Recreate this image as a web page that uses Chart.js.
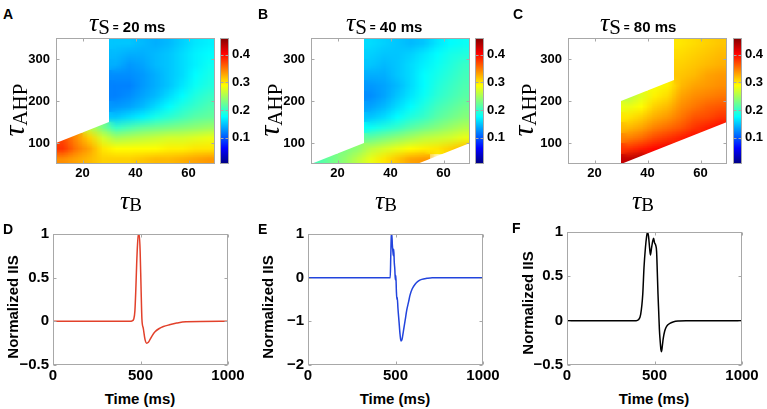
<!DOCTYPE html>
<html><head><meta charset="utf-8">
<script src="https://cdn.jsdelivr.net/npm/chart.js@4.4.1/dist/chart.umd.min.js"></script>
<style>
html,body{margin:0;padding:0;background:#fff;}
body{width:767px;height:409px;position:relative;overflow:hidden;font-family:"Liberation Sans",Arial,sans-serif;}
canvas{position:absolute;}
canvas.px{image-rendering:pixelated;}
canvas.sm{image-rendering:auto;}
.t{position:absolute;white-space:nowrap;line-height:1;color:#000;font:bold 14px "Liberation Sans",Arial,sans-serif;}
.tau{font-family:"Liberation Serif","DejaVu Serif",serif;font-style:italic;font-weight:normal;}
.sub{font-family:"Liberation Serif","DejaVu Serif",serif;font-weight:normal;position:relative;}
.rot{transform:translate(-50%,-50%) rotate(-90deg);}
.ctr{transform:translate(-50%,-50%);}
.pl{font:bold 14px "Liberation Sans",Arial,sans-serif;}
</style></head><body>

<!-- heat cells: crisp underlay + smooth layer (low-res backing, scaled by the browser) -->
<canvas id="pA" class="px" width="12" height="12" style="left:56px;top:38px;width:159px;height:126px"></canvas>
<canvas id="sA" class="sm" width="12" height="12" style="left:56px;top:38px;width:159px;height:126px"></canvas>
<canvas id="pB" class="px" width="12" height="12" style="left:311px;top:38px;width:159px;height:126px"></canvas>
<canvas id="sB" class="sm" width="12" height="12" style="left:311px;top:38px;width:159px;height:126px"></canvas>
<canvas id="pC" class="px" width="12" height="12" style="left:568px;top:38px;width:159px;height:126px"></canvas>
<canvas id="sC" class="sm" width="12" height="12" style="left:568px;top:38px;width:159px;height:126px"></canvas>

<canvas id="hA" width="215" height="164" style="left:0px;top:22px"></canvas>
<canvas id="hB" width="215" height="164" style="left:255px;top:22px"></canvas>
<canvas id="hC" width="215" height="164" style="left:512px;top:22px"></canvas>
<canvas id="cA" width="45" height="158" style="left:220px;top:22px"></canvas>
<canvas id="cB" width="45" height="158" style="left:475px;top:22px"></canvas>
<canvas id="cC" width="45" height="158" style="left:733px;top:22px"></canvas>
<canvas id="lD" width="248" height="171" style="left:0px;top:218px"></canvas>
<canvas id="lE" width="248" height="171" style="left:255px;top:218px"></canvas>
<canvas id="lF" width="250" height="173" style="left:512px;top:216px"></canvas>

<div class="t pl" style="left:3px;top:6px">A</div>
<div class="t pl" style="left:258px;top:6px">B</div>
<div class="t pl" style="left:513px;top:6px">C</div>
<div class="t pl" style="left:3px;top:221px">D</div>
<div class="t pl" style="left:258px;top:221px">E</div>
<div class="t pl" style="left:512px;top:220px">F</div>

<div class="t" style="left:89px;top:8px"><span class="tau" style="font-size:26px">τ</span><span class="sub" style="font-size:21px;top:3px">S</span><span style="font-size:10px;position:relative;top:0px"> =</span><span style="font-size:15px;position:relative;top:1px"> 20 ms</span></div>
<div class="t" style="left:346px;top:8px"><span class="tau" style="font-size:26px">τ</span><span class="sub" style="font-size:21px;top:3px">S</span><span style="font-size:10px;position:relative;top:0px"> =</span><span style="font-size:15px;position:relative;top:1px"> 40 ms</span></div>
<div class="t" style="left:600px;top:8px"><span class="tau" style="font-size:26px">τ</span><span class="sub" style="font-size:21px;top:3px">S</span><span style="font-size:10px;position:relative;top:0px"> =</span><span style="font-size:15px;position:relative;top:1px"> 80 ms</span></div>

<div class="t" style="left:120px;top:186px"><span class="tau" style="font-size:26px">τ</span><span class="sub" style="font-size:19px;top:2px">B</span></div>
<div class="t" style="left:375px;top:186px"><span class="tau" style="font-size:26px">τ</span><span class="sub" style="font-size:19px;top:2px">B</span></div>
<div class="t" style="left:632px;top:186px"><span class="tau" style="font-size:26px">τ</span><span class="sub" style="font-size:19px;top:2px">B</span></div>

<div class="t rot" style="left:14px;top:110px"><span class="tau" style="font-size:30px">τ</span><span class="sub" style="font-size:21px;top:3px">AHP</span></div>
<div class="t rot" style="left:269px;top:110px"><span class="tau" style="font-size:30px">τ</span><span class="sub" style="font-size:21px;top:3px">AHP</span></div>
<div class="t rot" style="left:523px;top:110px"><span class="tau" style="font-size:30px">τ</span><span class="sub" style="font-size:21px;top:3px">AHP</span></div>

<div class="t rot" style="left:12px;top:307px;font-size:15px">Normalized IIS</div>
<div class="t rot" style="left:267px;top:307px;font-size:15px">Normalized IIS</div>
<div class="t rot" style="left:527px;top:303px;font-size:15px">Normalized IIS</div>
<div class="t ctr" style="left:140px;top:398px;font-size:15px">Time (ms)</div>
<div class="t ctr" style="left:395px;top:398px;font-size:15px">Time (ms)</div>
<div class="t ctr" style="left:654px;top:398px;font-size:15px">Time (ms)</div>

<script>
// ---------------- data ----------------
const n = null;
const cellX = [12.5,17.5,22.5,27.5,32.5,37.5,42.5,47.5,52.5,57.5,62.5,67.5];            // tau_B cell centres
const cellY = [337.5,312.5,287.5,262.5,237.5,212.5,187.5,162.5,137.5,112.5,87.5,62.5];   // tau_AHP cell centres

const heatA = [
 [n,n,n,n, 0.15,0.15,0.145,0.14,0.145,0.155,0.165,0.17],
 [n,n,n,n, 0.145,0.14,0.14,0.145,0.15,0.16,0.17,0.175],
 [n,n,n,n, 0.14,0.13,0.135,0.145,0.15,0.16,0.17,0.18],
 [n,n,n,n, 0.125,0.125,0.13,0.14,0.15,0.16,0.175,0.185],
 [n,n,n,n, 0.12,0.12,0.13,0.14,0.15,0.165,0.18,0.19],
 [n,n,n,n, 0.12,0.125,0.135,0.145,0.16,0.175,0.19,0.2],
 [n,n,n,n, 0.13,0.135,0.145,0.16,0.175,0.19,0.2,0.21],
 [n,n,n,n, 0.15,0.16,0.17,0.185,0.195,0.205,0.215,0.22],
 [n,n,0.26,0.23, 0.2,0.21,0.22,0.225,0.23,0.235,0.24,0.245],
 [0.37,0.34,0.31,0.27, 0.25,0.255,0.26,0.265,0.27,0.27,0.275,0.28],
 [0.38,0.35,0.33,0.3, 0.29,0.29,0.29,0.29,0.295,0.295,0.3,0.3],
 [0.34,0.33,0.32,0.31, 0.31,0.31,0.315,0.32,0.32,0.325,0.33,0.335]
];
const heatB = [
 [n,n,n,n, 0.16,0.155,0.15,0.145,0.15,0.165,0.175,0.18],
 [n,n,n,n, 0.155,0.15,0.15,0.155,0.165,0.175,0.185,0.19],
 [n,n,n,n, 0.15,0.145,0.15,0.16,0.17,0.18,0.19,0.2],
 [n,n,n,n, 0.14,0.14,0.15,0.16,0.175,0.185,0.195,0.205],
 [n,n,n,n, 0.13,0.135,0.145,0.16,0.175,0.19,0.2,0.21],
 [n,n,n,n, 0.125,0.135,0.15,0.165,0.18,0.195,0.205,0.215],
 [n,n,n,n, 0.135,0.145,0.16,0.175,0.19,0.205,0.215,0.225],
 [n,n,n,n, 0.15,0.16,0.175,0.19,0.2,0.215,0.225,0.235],
 [n,n,n,n, 0.18,0.19,0.2,0.215,0.225,0.235,0.245,0.255],
 [n,n,n,n, 0.22,0.23,0.24,0.25,0.26,0.265,0.27,0.28],
 [n,n,0.23,0.24, 0.26,0.27,0.28,0.29,0.295,0.3,0.31,0.32],
 [0.21,0.225,0.24,0.26, 0.28,0.3,0.315,0.33,0.335,n,n,n]
];
const heatC = [
 [n,n,n,n, n,n,n,n, 0.3,0.305,0.31,0.315],
 [n,n,n,n, n,n,n,n, 0.305,0.31,0.315,0.32],
 [n,n,n,n, n,n,n,n, 0.31,0.315,0.32,0.325],
 [n,n,n,n, n,n,n,n, 0.315,0.32,0.33,0.335],
 [n,n,n,n, n,n,0.285,0.295, 0.32,0.33,0.335,0.34],
 [n,n,n,n, 0.255,0.275,0.295,0.305, 0.33,0.34,0.345,0.35],
 [n,n,n,n, 0.28,0.29,0.31,0.32, 0.34,0.35,0.36,0.365],
 [n,n,n,n, 0.3,0.31,0.325,0.335, 0.35,0.365,0.37,0.38],
 [n,n,n,n, 0.32,0.33,0.345,0.355, 0.365,0.38,0.39,0.4],
 [n,n,n,n, 0.345,0.355,0.37,0.38, 0.39,0.4,n,n],
 [n,n,n,n, 0.38,0.39,0.4,0.41, n,n,n,n],
 [n,n,n,n, 0.43,0.44,n,n, n,n,n,n]
];
// borders of the explored parameter region (white outside)
const maskA_up = [{x:10,y:100},{x:30,y:150}];
const maskB_up = [{x:10,y:50},{x:30,y:100}];
const maskB_low = [{x:50,y:50},{x:70,y:100}];
const maskC_left = [{x:10,y:50},{x:30,y:50}];
const maskC_up = [{x:30,y:200},{x:50,y:250}];
const maskC_low = [{x:30,y:50},{x:70,y:150}];

const colorRange = [0.005, 0.46];
const cbTicks = [0.1,0.2,0.3,0.4];
const tauBRange = [10,70];
const tauAHPRange = [50,350];
const tauBTicks = [20,40,60];
const tauAHPTicks = [100,200,300];
const timeTicks = [0,500,1000];
const iisTicksDF = [-0.5,0,0.5,1];
const iisTicksE = [-2,-1,0,1];

const tD = [0,440,452,462,468,473,478,483,488,493,498,503,508,516,526,535,545,554,568,583,605,631,665,707,760,1000];
const vD = [0,0,0.005,0.03,0.12,0.35,0.65,0.88,0.99,1,0.8,0.4,0.03,-0.08,-0.21,-0.25,-0.24,-0.21,-0.16,-0.12,-0.085,-0.06,-0.04,-0.02,-0.005,0];
const tE = [0,470,473,476,479,482,485,488,490,493,496,499,502,505,508,510,514,520,526,531,537,545,555,564,575,583,595,612,630,650,680,710,1000];
const vE = [0,0,0.5,0.95,1.0,0.75,0.6,0.5,0.65,0.35,0.2,-0.05,0.05,-0.3,-0.5,-0.45,-0.7,-1.0,-1.3,-1.45,-1.42,-1.23,-0.98,-0.75,-0.55,-0.4,-0.26,-0.15,-0.08,-0.04,-0.015,0,0];
const tF = [0,395,408,421,433,440,448,455,460,466,472,477,483,490,495,500,507,512,516,520,524,528,532,537,540,545,550,558,565,575,588,610,640,680,1000];
const vF = [0,0,0.01,0.07,0.3,0.6,0.82,0.95,1.0,0.95,0.82,0.74,0.82,0.9,0.93,0.88,0.85,0.78,0.55,0.3,0.1,-0.1,-0.22,-0.33,-0.35,-0.28,-0.2,-0.12,-0.08,-0.05,-0.03,-0.012,-0.004,0,0];

// ---------------- helpers ----------------
function jet(v){
  let t=(v-colorRange[0])/(colorRange[1]-colorRange[0]); t=Math.max(0,Math.min(1,t));
  const c=x=>Math.round(255*Math.max(0,Math.min(1,x)));
  return 'rgb('+c(1.5-Math.abs(4*t-3))+','+c(1.5-Math.abs(4*t-2))+','+c(1.5-Math.abs(4*t-1))+')';
}
const FRAME = '#a8a8a8';
const framePlugin = {
  id:'frame',
  afterDraw(chart){
    const ctx = chart.ctx, a = chart.chartArea;
    ctx.save();
    ctx.strokeStyle = FRAME; ctx.lineWidth = 1;
    const L=Math.round(a.left)+0.5, T=Math.round(a.top)+0.5, R=Math.round(a.right)-0.5, B=Math.round(a.bottom)-0.5;
    ctx.strokeRect(L,T,R-L,B-T);
    const tl = 3;
    ctx.beginPath();
    Object.values(chart.scales).forEach(s=>{
      if(!s.options.display) return;
      (s.ticks||[]).forEach(tk=>{
        const p = Math.round(s.getPixelForValue(tk.value))+0.5;
        if(!isFinite(p)) return;
        if(s.isHorizontal()){ ctx.moveTo(p,B); ctx.lineTo(p,B-tl); ctx.moveTo(p,T); ctx.lineTo(p,T+tl); }
        else { ctx.moveTo(L,p); ctx.lineTo(L+tl,p); ctx.moveTo(R,p); ctx.lineTo(R-tl,p); }
      });
    });
    ctx.stroke();
    ctx.restore();
  }
};
const fixTicks = arr => s => { s.ticks = arr.map(v=>({value:v})); };
const fmt = v => (v<0 ? '\u2212'+Math.abs(v) : String(v));
const tickFont = size => ({family:'"Liberation Sans", Arial, sans-serif', weight:'bold', size});
const noPlugins = {legend:{display:false}, tooltip:{enabled:false}};
const noGrid = {display:false, drawTicks:false};

// cells of one map, drawn by Chart.js bars (one floating bar per cell) on a low-resolution canvas
function cellChart(id, rows){
  const half = (cellY[0]-cellY[1])/2;
  const datasets = rows.map((row,r)=>{
    const data = [];
    row.forEach((v,i)=>{ if(v!==null) data.push({x:cellX[i], y:[cellY[r]-half, cellY[r]+half], v}); });
    return {data, backgroundColor: c => (c.raw ? jet(c.raw.v) : 'rgba(0,0,0,0)'),
      borderWidth:0, inflateAmount:0, grouped:false, barPercentage:1, categoryPercentage:1};
  });
  return new Chart(document.getElementById(id), {
    type:'bar', data:{datasets},
    options:{
      responsive:false, animation:false, events:[], devicePixelRatio:1,
      layout:{padding:0}, plugins:noPlugins,
      scales:{
        x:{type:'linear', offset:false, min:tauBRange[0], max:tauBRange[1], display:false},
        y:{type:'linear', min:tauAHPRange[0], max:tauAHPRange[1], display:false}
      }
    }
  });
}

// axes, frame and white outside-region masks of one map
function axesChart(id, masks){
  const datasets = masks.map(m => ({data:m.pts, fill:m.fill, backgroundColor:'#fff',
      borderColor:'rgba(255,255,255,0)', borderWidth:1, pointRadius:0, tension:0}));
  return new Chart(document.getElementById(id), {
    type:'line', data:{datasets},
    options:{
      responsive:false, animation:false, events:[],
      layout:{padding:{top:16,right:0,left:0,bottom:0}}, plugins:noPlugins,
      scales:{
        x:{type:'linear', min:tauBRange[0], max:tauBRange[1], afterBuildTicks:fixTicks(tauBTicks), afterFit:s=>{s.height=22;},
           grid:noGrid, border:{display:false},
           ticks:{font:tickFont(13), color:'#000', padding:2, maxRotation:0, autoSkip:false}},
        y:{type:'linear', min:tauAHPRange[0], max:tauAHPRange[1], afterBuildTicks:fixTicks(tauAHPTicks), afterFit:s=>{s.width=56;},
           grid:noGrid, border:{display:false},
           ticks:{font:tickFont(13), color:'#000', padding:6, autoSkip:false}}
      }
    },
    plugins:[framePlugin]
  });
}

function colorbar(id){
  const stops = [[0,'#00007f'],[0.125,'#0000ff'],[0.375,'#00ffff'],[0.625,'#ffff00'],[0.875,'#ff0000'],[1,'#7f0000']];
  return new Chart(document.getElementById(id), {
    type:'bar',
    data:{labels:['cb'], datasets:[{data:[colorRange], borderWidth:0, barPercentage:1, categoryPercentage:1,
      backgroundColor: c => {
        const ys = c.chart.scales.y;
        if(!ys) return '#888';
        const p0 = ys.getPixelForValue(colorRange[0]), p1 = ys.getPixelForValue(colorRange[1]);
        if(!isFinite(p0) || !isFinite(p1)) return '#888';
        const g = c.chart.ctx.createLinearGradient(0, p0, 0, p1);
        stops.forEach(s=>g.addColorStop(s[0], s[1]));
        return g;
      }}]},
    options:{
      responsive:false, animation:false, events:[],
      layout:{padding:{top:16,right:0,left:0,bottom:16}}, plugins:noPlugins,
      scales:{
        x:{display:false},
        y:{position:'right', min:colorRange[0], max:colorRange[1], afterBuildTicks:fixTicks(cbTicks), afterFit:s=>{s.width=36;},
           grid:noGrid, border:{display:false},
           ticks:{font:tickFont(13), color:'#000', padding:3, callback:v=>String(v)}}
      }
    },
    plugins:[framePlugin]
  });
}

function lineChart(id, t, v, color, yMin, yMax, yTicks, yW){
  return new Chart(document.getElementById(id), {
    type:'line',
    data:{datasets:[{data:t.map((x,i)=>({x, y:v[i]})), borderColor:color, borderWidth:1.5, pointRadius:0,
      cubicInterpolationMode:'monotone', fill:false}]},
    options:{
      responsive:false, animation:false, events:[],
      layout:{padding:{top:16,right:20,left:0,bottom:0}}, plugins:noPlugins,
      scales:{
        x:{type:'linear', min:timeTicks[0], max:timeTicks[timeTicks.length-1], afterBuildTicks:fixTicks(timeTicks), afterFit:s=>{s.height=24;},
           grid:noGrid, border:{display:false},
           ticks:{font:tickFont(15), color:'#000', padding:2, maxRotation:0, autoSkip:false, callback:fmt}},
        y:{type:'linear', min:yMin, max:yMax, afterBuildTicks:fixTicks(yTicks), afterFit:s=>{s.width=yW;},
           grid:noGrid, border:{display:false},
           ticks:{font:tickFont(15), color:'#000', padding:4, autoSkip:false, callback:fmt}}
      }
    },
    plugins:[framePlugin]
  });
}

cellChart('pA', heatA); cellChart('sA', heatA);
cellChart('pB', heatB); cellChart('sB', heatB);
cellChart('pC', heatC); cellChart('sC', heatC);
axesChart('hA', [{pts:maskA_up, fill:'end'}]);
axesChart('hB', [{pts:maskB_up, fill:'end'},{pts:maskB_low, fill:'start'}]);
axesChart('hC', [{pts:maskC_left, fill:'end'},{pts:maskC_up, fill:'end'},{pts:maskC_low, fill:'start'}]);
colorbar('cA'); colorbar('cB'); colorbar('cC');
lineChart('lD', tD, vD, '#e2412b', -0.5, 1, iisTicksDF, 53);
lineChart('lE', tE, vE, '#2244dd', -2, 1, iisTicksE, 53);
lineChart('lF', tF, vF, '#000000', -0.5, 1, iisTicksDF, 55);
</script>
</body></html>
